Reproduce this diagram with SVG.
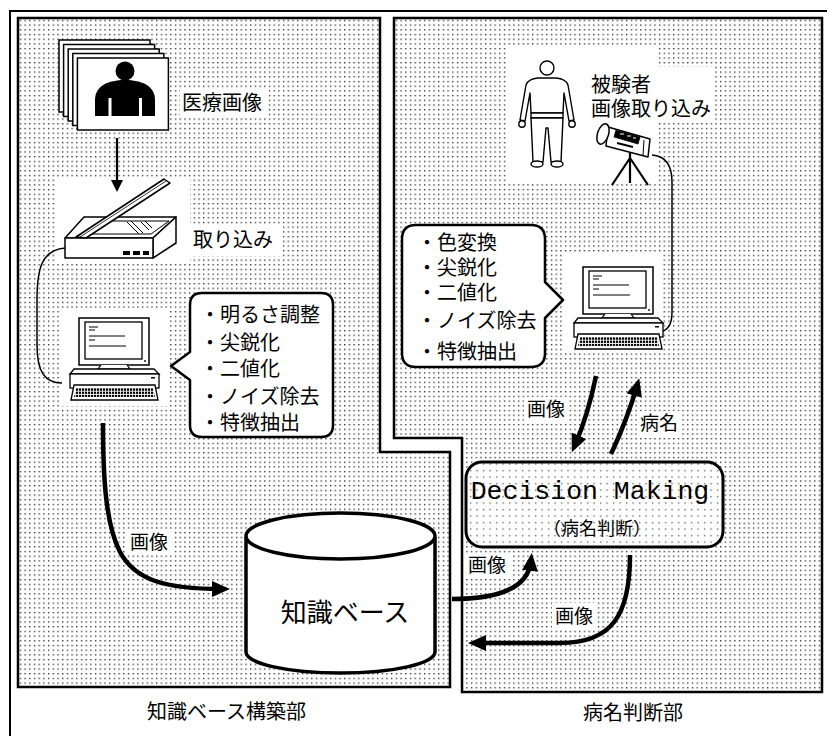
<svg xmlns="http://www.w3.org/2000/svg" width="827" height="736" viewBox="0 0 827 736">
  <style>
    .jp { font-family: "Noto Sans CJK JP", "Noto Sans", sans-serif; fill: #000; }
    .panel { fill: url(#dots); stroke: #000; stroke-width: 2.5; }
    .ln { fill: none; stroke: #000; }
    .wh { fill: #fff; stroke: none; }
    .thick { fill: none; stroke: #000; stroke-width: 4.5; }
    .bubble { fill: #fff; stroke: #000; stroke-width: 2.5; stroke-linejoin: round; }
  </style>
  <defs>
    <pattern id="dots" width="4.7" height="4.7" patternUnits="userSpaceOnUse">
      <rect width="4.7" height="4.7" fill="#fff"/>
      <rect x="1" y="1" width="1.25" height="1.25" fill="#111"/>
    </pattern>
    <pattern id="dots2" width="6.5" height="6.5" patternUnits="userSpaceOnUse">
      <rect width="6.5" height="6.5" fill="#fff"/>
      <rect x="2" y="2" width="1.2" height="1.2" fill="#333"/>
    </pattern>
    <pattern id="keys" width="3" height="3.2" patternUnits="userSpaceOnUse">
      <rect width="2.2" height="2.3" fill="#000"/>
    </pattern>
    <marker id="ah" markerUnits="userSpaceOnUse" markerWidth="18" markerHeight="16" refX="10" refY="8" orient="auto">
      <path d="M0,0 L18,8 L0,16 Z" fill="#000"/>
    </marker>
    <marker id="ahs" markerUnits="userSpaceOnUse" markerWidth="12" markerHeight="12" refX="6" refY="6" orient="auto">
      <path d="M0,0 L12,6 L0,12 Z" fill="#000"/>
    </marker>
    <!-- desktop computer: monitor, system unit and keyboard -->
    <g id="pc">
      <rect x="0" y="0" width="70" height="47" fill="#fff" stroke="#000" stroke-width="1.5"/>
      <rect x="6" y="4" width="57" height="37" fill="#fff" stroke="#000" stroke-width="1.3"/>
      <path d="M10,9h9 M10,12h6 M10,18h36 M10,22h6 M10,28h37" stroke="#000" stroke-width="1"/>
      <circle cx="66" cy="43" r="0.9" fill="#000"/>
      <path d="M22,47 L19,51 H51 L48,47" fill="#fff" stroke="#000" stroke-width="1.2"/>
      <path d="M-5,51 H75 L80,56 H-9 Z" fill="#fff" stroke="#000" stroke-width="1.3"/>
      <rect x="-9" y="56" width="89" height="14" fill="#fff" stroke="#000" stroke-width="1.3"/>
      <rect x="72" y="59" width="4" height="1.5" fill="#000"/>
      <path d="M-5,67 H76 L79,82 H-8 Z" fill="#fff" stroke="#000" stroke-width="1.3"/>
      <path d="M-3,70 H74 L76,79 H-5 Z" fill="url(#keys)"/>
    </g>
  </defs>

  <rect width="827" height="736" fill="#fff"/>

  <!-- outer frame -->
  <path d="M10,736 V11 H827" class="ln" stroke-width="2"/>

  <!-- panels -->
  <g id="panel-kb">
    <path class="panel" d="M18,18 H380 V452 H450 V687 H18 Z"/>
  </g>
  <g id="panel-dx">
    <path class="panel" d="M394,18 H822 V692 H462 V438 H394 Z"/>
  </g>

  <!-- white backdrops behind pictures and labels -->
  <g id="backdrops">
    <rect class="wh" x="180" y="88" width="86" height="28"/>
    <rect class="wh" x="55" y="177" width="135" height="86"/>
    <rect class="wh" x="190" y="224" width="92" height="32"/>
    <rect class="wh" x="62" y="308" width="106" height="98"/>
    <rect class="wh" x="127" y="529" width="47" height="26"/>
    <rect class="wh" x="508" y="47" width="149" height="136"/>
    <rect class="wh" x="588" y="67" width="127" height="55"/>
    <rect class="wh" x="565" y="254" width="98" height="97"/>
    <rect class="wh" x="524" y="397" width="45" height="25"/>
    <rect class="wh" x="637" y="411" width="44" height="26"/>
    <rect class="wh" x="465" y="553" width="46" height="25"/>
    <rect class="wh" x="552" y="603" width="44" height="26"/>
  </g>

  <!-- connectors -->
  <g id="connectors">
    <path class="ln" stroke-width="1.5" d="M65,248 C42,250 37,268 37,300 V345 C37,372 45,383 62,383"/>
    <path class="ln" stroke-width="1.5" d="M652,155 C666,156 672,165 672,182 V312 C672,325 668,330 660,332"/>
    <path class="ln" stroke-width="2.2" marker-end="url(#ahs)" d="M117,138 V186"/>
    <path class="thick" marker-end="url(#ah)" d="M103,423 C103,480 106,525 120,552 C135,580 165,589 222,589"/>
    <path class="thick" stroke-width="5" marker-end="url(#ah)" d="M596,376 Q588,415 575,445"/>
    <path class="thick" stroke-width="5" marker-end="url(#ah)" d="M611,454 Q627,420 637,386"/>
    <path class="thick" marker-end="url(#ah)" d="M452,599 C495,599 528,590 531,561"/>
    <path class="thick" marker-end="url(#ah)" d="M630,555 C630,615 612,643 560,643 L476,643"/>
  </g>

  <!-- stack of medical images -->
  <g id="medical-images" stroke="#000" stroke-width="1.5" fill="#fff">
    <rect x="59" y="40" width="91" height="72"/>
    <rect x="63.6" y="44.5" width="91" height="72"/>
    <rect x="68.2" y="49" width="91" height="72"/>
    <rect x="72.8" y="53.5" width="91" height="72"/>
    <rect x="77.4" y="58" width="91" height="72"/>
    <circle cx="125" cy="71" r="9.5" fill="#000" stroke="none"/>
    <path d="M95,116 V100 C95,86 108,80 125,80 C142,80 155,86 155,100 V116 Z" fill="#000" stroke="none"/>
    <rect x="108.5" y="98" width="3" height="18" fill="#fff" stroke="none"/>
    <rect x="139" y="98" width="3" height="18" fill="#fff" stroke="none"/>
  </g>

  <!-- flatbed scanner -->
  <g id="scanner" stroke="#000" stroke-width="1.5" fill="#fff" stroke-linejoin="round">
    <path d="M65,238 L84,217 H176 L153,238 Z"/>
    <path d="M153,238 L176,217 V243 L153,258 Z"/>
    <rect x="65" y="238" width="88" height="20"/>
    <path d="M88,234 L100,221 H169 L151,234 Z" stroke-width="1"/>
    <path d="M127,222 L139,234 M131,221 L143,233 M141,222 L149,230 M145,221 L152,228" stroke-width="1"/>
    <path d="M76,237 L164,179 L170,183 L86,238 Z"/>
    <path d="M80,237 L166,181" stroke-width="0.8"/>
    <rect x="123" y="251" width="7" height="4" fill="#000" stroke="none"/>
    <rect x="133" y="251" width="7" height="4" fill="#000" stroke="none"/>
    <rect x="143" y="251" width="6" height="4" fill="#000" stroke="none"/>
  </g>

  <!-- computer (knowledge base side) -->
  <g id="pc-kb">
    <use href="#pc" transform="translate(79,318)"/>
  </g>

  <!-- processing steps (knowledge base side) -->
  <g id="steps-kb">
    <path class="bubble" d="M202,293 H321 Q333,293 333,305 V425 Q333,437 321,437 H202 Q190,437 190,425 V380 L171,366 L190,352 V305 Q190,293 202,293 Z"/>
    <text class="jp" font-size="20">
      <tspan x="200" y="322">・明るさ調整</tspan>
      <tspan x="200" y="350">・尖鋭化</tspan>
      <tspan x="200" y="376">・二値化</tspan>
      <tspan x="200" y="404">・ノイズ除去</tspan>
      <tspan x="200" y="430">・特徴抽出</tspan>
    </text>
  </g>

  <!-- knowledge base cylinder -->
  <g id="knowledge-base">
    <path d="M246,537 V652 A94.5,21 0 0 0 435,652 V537" fill="#fff" stroke="#000" stroke-width="3.5"/>
    <ellipse cx="340.5" cy="536" rx="94.5" ry="23" fill="#fff" stroke="#000" stroke-width="3.5"/>
    <text class="jp" font-size="26" x="345" y="622" text-anchor="middle">知識ベース</text>
  </g>

  <!-- subject figure -->
  <g id="subject" fill="#fff" stroke="#000" stroke-width="1.4" stroke-linejoin="round">
    <circle cx="547" cy="68" r="7"/>
    <path d="M538,78 Q528,79 526,85 L520,120 L525,121 L530,93 L531,113 L563,113 L564,93 L569,121 L574,120 L568,85 Q566,79 556,78 Z"/>
    <rect x="531" y="113" width="32" height="5"/>
    <path d="M531,118 L533,162 L543,162 L546,128 L548,128 L551,162 L561,162 L563,118 Z"/>
    <ellipse cx="537" cy="164" rx="6" ry="3"/>
    <ellipse cx="557" cy="164" rx="6" ry="3"/>
    <circle cx="522" cy="124" r="3.2"/>
    <circle cx="572" cy="124" r="3.2"/>
  </g>

  <!-- video camera on tripod -->
  <g id="camera" stroke="#000" stroke-linejoin="round">
    <path d="M630,150 V183 M630,158 L612,185 M630,158 L648,185" fill="none" stroke-width="2.2"/>
    <path d="M608,127 L650,139 L648,157 L606,146 Z" fill="#fff" stroke-width="1.5"/>
    <path d="M616,130 L640,137 L638,144 L614,137 Z" fill="#000" stroke-width="0.8"/>
    <path d="M620,134 h4 M627,136 h4 M633,138 h3" stroke="#fff" stroke-width="1"/>
    <path d="M617,143 L633,147" stroke-width="2"/>
    <path d="M644,140 L643,156" stroke-width="1"/>
    <ellipse cx="603" cy="134" rx="5.5" ry="10.5" transform="rotate(18 603 134)" fill="#fff" stroke-width="1.5"/>
  </g>

  <!-- computer (diagnosis side) -->
  <g id="pc-dx">
    <use href="#pc" transform="translate(583,267)"/>
  </g>

  <!-- processing steps (diagnosis side) -->
  <g id="steps-dx">
    <path class="bubble" d="M416,225 H531 Q545,225 545,239 V282 L563,300 L545,318 V353 Q545,367 531,367 H416 Q402,367 402,353 V239 Q402,225 416,225 Z"/>
    <text class="jp" font-size="20">
      <tspan x="417" y="250">・色変換</tspan>
      <tspan x="417" y="275">・尖鋭化</tspan>
      <tspan x="417" y="300">・二値化</tspan>
      <tspan x="417" y="328">・ノイズ除去</tspan>
      <tspan x="417" y="359">・特徴抽出</tspan>
    </text>
  </g>

  <!-- decision making block -->
  <g id="decision-making">
    <rect x="466" y="462" width="257" height="85" rx="16" fill="url(#dots2)" stroke="#000" stroke-width="3"/>
    <text x="590" y="499" font-family="'Liberation Mono', 'Courier New', monospace" font-size="26.5" text-anchor="middle" fill="#000">Decision Making</text>
    <text class="jp" font-size="18" x="597" y="535" text-anchor="middle">（病名判断）</text>
  </g>

  <!-- labels -->
  <g id="labels">
    <text class="jp" font-size="20" x="182" y="110">医療画像</text>
    <text class="jp" font-size="20" x="193" y="247">取り込み</text>
    <text class="jp" font-size="20">
      <tspan x="591" y="92">被験者</tspan>
      <tspan x="591" y="116">画像取り込み</tspan>
    </text>
    <text class="jp" font-size="19" x="130" y="549">画像</text>
    <text class="jp" font-size="19" x="527" y="416">画像</text>
    <text class="jp" font-size="19" x="640" y="430">病名</text>
    <text class="jp" font-size="19" x="468" y="572">画像</text>
    <text class="jp" font-size="19" x="555" y="623">画像</text>
    <text class="jp" font-size="20" x="147" y="719">知識ベース構築部</text>
    <text class="jp" font-size="20" x="583" y="720">病名判断部</text>
  </g>
</svg>
